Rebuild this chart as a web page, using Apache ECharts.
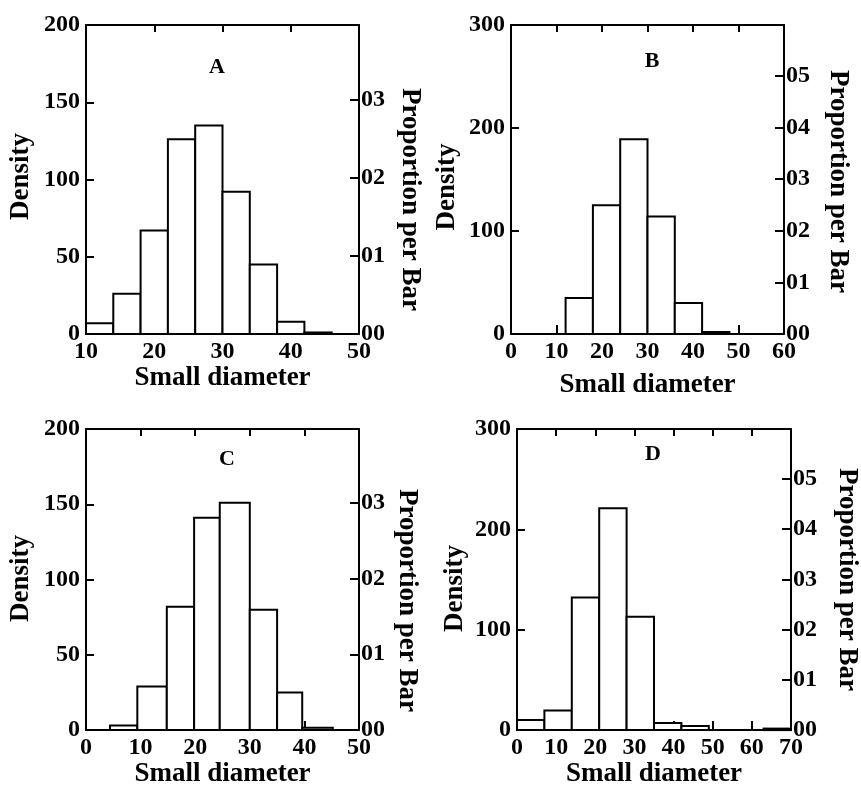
<!DOCTYPE html>
<html>
<head>
<meta charset="utf-8">
<script src="https://cdn.jsdelivr.net/npm/echarts@6/dist/echarts.min.js"></script>
<style>
  html, body { margin: 0; padding: 0; background: #fff; }
  #chart { width: 861px; height: 789px; }
</style>
</head>
<body>
<div id="chart"></div>
<script>
// bin edges [from, to] and density per bar
const binsA = [[10, 14], [14, 18], [18, 22], [22, 26], [26, 30], [30, 34], [34, 38], [38, 42], [42, 46]]
const densityA = [7, 26, 67, 126, 135, 92, 45, 8, 1]

const binsB = [[12, 18], [18, 24], [24, 30], [30, 36], [36, 42], [42, 48]]
const densityB = [35, 125, 189, 114, 30, 2]

const binsC = [[4.4, 9.4], [9.4, 14.8], [14.8, 19.8], [19.8, 24.5], [24.5, 30], [30, 35], [35, 39.6], [39.6, 45.2]]
const densityC = [3, 29, 82, 141, 151, 80, 25, 1.5]

const binsD = [[0, 7], [7, 14], [14, 21], [21, 28], [28, 35], [35, 42], [42, 49], [49, 56], [56, 63], [63, 70]]
const densityD = [10, 19.5, 132, 221, 113, 7, 4, 0, 0, 1.5]

// axis ranges
const xRanges = [[10, 50], [0, 60], [0, 50], [0, 70]]
const densityMax = [200, 300, 200, 300]
const densityStep = [50, 100, 50, 100]
const propMax = [0.0396, 0.0598, 0.0397, 0.0599]
const titles = ['A', 'B', 'C', 'D']

const FONT = 'Liberation Serif'

const grids = [
  { left: 86, top: 25, width: 273, height: 309 },
  { left: 511, top: 25, width: 273, height: 309 },
  { left: 86, top: 429, width: 273, height: 307 },
  { left: 517, top: 429, width: 274, height: 307 }
]
const titlePos = [[212, 51], [647, 45], [222, 443], [648, 438]]
const densityGap = [51, 50, 51, 48]
// shifts the rotated names along their axis
const densityPad = [[0, 0, 0, 6], [0, 15, 0, 0], [0, 0, 0, 2], [0, 18, 0, 0]]
const propGap = [37, 40, 34, 42]
const propPad = [[0, 0, 0, 40], [0, 0, 0, 4], [0, 0, 0, 42], [0, 0, 0, 0]]
const xNameGap = [31, 38, 30, 30]

const allBins = [binsA, binsB, binsC, binsD]
const allDensity = [densityA, densityB, densityC, densityD]

const lineStyle = { color: '#000', width: 2 }
const labelStyle = { color: '#000', fontFamily: FONT, fontWeight: 'bold', fontSize: 24 }
const nameStyle = { color: '#000', fontFamily: FONT, fontWeight: 'bold', fontSize: 27 }

const xAxis = []
const yAxis = []
const series = []
const title = []

grids.forEach((g, i) => {
  const [xmin, xmax] = xRanges[i]
  // bottom axis with labels
  xAxis.push({
    type: 'value', gridIndex: i, position: 'bottom',
    min: xmin, max: xmax, interval: 10,
    name: 'Small diameter', nameLocation: 'middle', nameGap: xNameGap[i],
    nameTextStyle: nameStyle,
    axisLine: { show: true, onZero: false, lineStyle },
    axisTick: { show: true, inside: true, length: 9, lineStyle },
    axisLabel: Object.assign({ margin: 6 }, labelStyle),
    splitLine: { show: false }
  })
  // top frame line
  xAxis.push({
    type: 'value', gridIndex: i, position: 'top',
    min: xmin, max: xmax, interval: 10,
    axisLine: { show: true, onZero: false, lineStyle },
    axisTick: { show: true, inside: true, length: 7, lineStyle },
    axisLabel: { show: false },
    splitLine: { show: false }
  })
  yAxis.push({
    type: 'value', gridIndex: i, position: 'left',
    min: 0, max: densityMax[i], interval: densityStep[i],
    name: 'Density', nameLocation: 'middle', nameGap: densityGap[i], nameRotate: 90,
    nameTextStyle: Object.assign({ padding: densityPad[i] }, nameStyle),
    axisLine: { show: true, onZero: false, lineStyle },
    axisTick: { show: true, inside: true, length: 8, lineStyle },
    axisLabel: Object.assign({ margin: 6 }, labelStyle),
    splitLine: { show: false }
  })
  yAxis.push({
    type: 'value', gridIndex: i, position: 'right',
    min: 0, max: propMax[i], interval: 0.01,
    name: 'Proportion per Bar', nameLocation: 'middle', nameGap: propGap[i], nameRotate: -90,
    nameTextStyle: Object.assign({ padding: propPad[i] }, nameStyle),
    axisLine: { show: true, onZero: false, lineStyle },
    axisTick: { show: true, inside: true, length: 9, lineStyle },
    axisLabel: Object.assign({
      margin: 2, showMaxLabel: false,
      formatter: v => String(Math.round(v * 100)).padStart(2, '0')
    }, labelStyle),
    splitLine: { show: false }
  })
  series.push({
    type: 'custom',
    xAxisIndex: i * 2, yAxisIndex: i * 2,
    data: allBins[i].map((b, k) => [b[0], b[1], allDensity[i][k]]),
    renderItem: (params, api) => {
      const p0 = api.coord([api.value(0), api.value(2)])
      const p1 = api.coord([api.value(1), 0])
      return {
        type: 'rect',
        shape: { x: p0[0], y: p0[1], width: p1[0] - p0[0], height: p1[1] - p0[1] },
        style: { fill: '#fff', stroke: '#000', lineWidth: 2 }
      }
    },
    z: 1
  })
  title.push({
    text: titles[i], left: titlePos[i][0], top: titlePos[i][1], textAlign: 'center',
    textStyle: { color: '#000', fontFamily: FONT, fontWeight: 'bold', fontSize: 22 }
  })
})

const chart = echarts.init(document.getElementById('chart'))
chart.setOption({
  animation: false,
  backgroundColor: '#fff',
  title,
  grid: grids.map(g => Object.assign({ containLabel: false }, g)),
  xAxis,
  yAxis,
  series
})
</script>
</body>
</html>
